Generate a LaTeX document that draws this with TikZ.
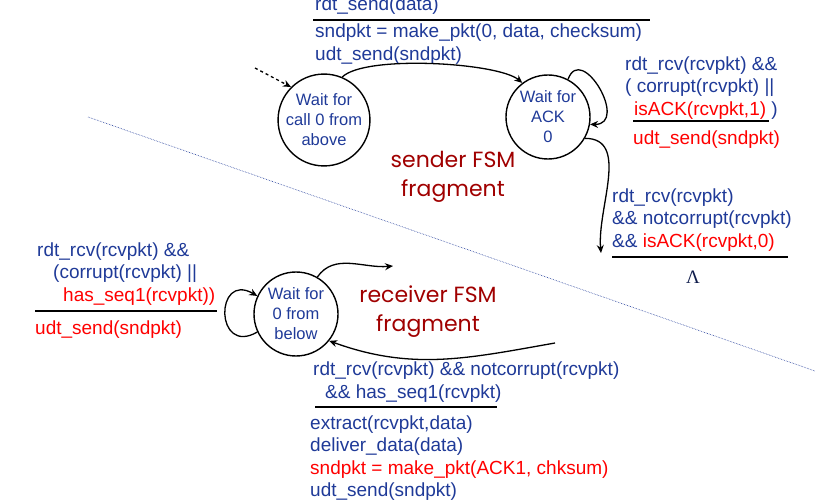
\documentclass[tikz,border=0pt]{standalone}
\usepackage{fontspec}
\setmainfont{Liberation Sans}
\newfontfamily\tagfont{Poppins}
\newfontfamily\lamfont{Liberation Serif}
\usepackage{tikz}
\usetikzlibrary{arrows.meta, positioning}
\usepackage{xcolor}
\definecolor{fsmblue}{RGB}{31, 58, 152}
\definecolor{fsmred}{RGB}{255, 0, 0}
\definecolor{fsmdark}{RGB}{160, 0, 0}

\begin{document}
\begin{tikzpicture}[x=1pt, y=1pt,
    state/.style={draw, circle, line width=1.4pt, minimum size=84pt, inner sep=0pt,
                  align=center, text=fsmblue, font=\fontsize{16.5}{20}\selectfont},
    lbl/.style={anchor=west, inner sep=0pt, align=left, text=fsmblue,
                font=\fontsize{19}{22.5}\selectfont},
    tag/.style={align=center, text=fsmdark, font=\tagfont\fontsize{22}{29}\selectfont},
    arr/.style={-{Stealth[length=8pt, width=7pt]}, line width=1.3pt},
    bar/.style={line width=2.2pt}
  ]
    \useasboundingbox (0,0) rectangle (815,-500);

    \draw[fsmblue, densely dotted, line width=0.6pt] (88,-117) -- (815,-371);

    \node[state] (call0) at (324,-120) {Wait for\\call 0 from\\above};
    \node[state] (ack0) at (548,-117) {Wait for\\ACK\\0};
    \node[state] (below0) at (296,-314) {Wait for\\0 from\\below};

    \node[tag] (sendtag) at (453,-177) {sender FSM\\fragment};
    \node[tag] (recvtag) at (428,-312) {receiver FSM\\fragment};

    \node[lbl] (sendev) at (315,-6) {rdt\_send(data)};
    \draw[bar] (313,-20) -- (650,-20);
    \node[lbl] (sendact) at (315,-44) {sndpkt = make\_pkt(0, data, checksum)\\udt\_send(sndpkt)};

    \node[lbl] (resendev) at (625,-88)
      {rdt\_rcv(rcvpkt) \&\&\\( corrupt(rcvpkt) ||\\\hspace*{9pt}\textcolor{fsmred}{isACK(rcvpkt,1)} )};
    \draw[bar] (633,-121) -- (769,-121);
    \node[lbl, text=fsmred] (resendact) at (633,-140) {udt\_send(sndpkt)};

    \node[lbl] (okev) at (612,-220)
      {rdt\_rcv(rcvpkt)\\\&\& notcorrupt(rcvpkt)\\\&\& \textcolor{fsmred}{isACK(rcvpkt,0)}};
    \draw[bar] (612,-257) -- (788,-257);
    \node[text=fsmblue!50!black, font=\lamfont\fontsize{19}{20}\selectfont] (okact) at (693,-277) {Λ};

    \node[lbl] (dupev) at (37,-274)
      {rdt\_rcv(rcvpkt) \&\&\\\hspace*{16pt}(corrupt(rcvpkt) ||\\\hspace*{26pt}\textcolor{fsmred}{has\_seq1(rcvpkt))}};
    \draw[bar] (35,-311) -- (217,-311);
    \node[lbl, text=fsmred] (dupact) at (35,-330) {udt\_send(sndpkt)};

    \node[lbl] (recvev) at (313,-382)
      {rdt\_rcv(rcvpkt) \&\& notcorrupt(rcvpkt)\\\hspace*{12pt}\&\& has\_seq1(rcvpkt)};
    \draw[bar] (315,-407) -- (497,-407);
    \node[lbl] (recvact) at (310,-458)
      {extract(rcvpkt,data)\\deliver\_data(data)\\\textcolor{fsmred}{sndpkt = make\_pkt(ACK1, chksum)}\\udt\_send(sndpkt)};

    \coordinate (init) at (255,-68);
    \coordinate (ack0out) at (601,-253);
    \coordinate (below0out) at (393,-266);
    \coordinate (below0in) at (555,-343);

    \draw[arr, dashed] (init) -- (call0.135);
    \draw[arr] (call0.67) to[out=45, in=140, looseness=0.45] (ack0.127);
    \draw[arr] (ack0.62) to[out=70, in=0, looseness=2] (ack0.-10);
    \draw[arr] (ack0.-30) to[out=0, in=95] (ack0out);
    \draw[arr] (below0.205) to[out=210, in=150, looseness=3.5] (below0.155);
    \draw[arr] (below0.60) to[out=55, in=185] (below0out);
    \draw[arr] (below0in) to[out=190, in=-20] (below0.-39);
  \end{tikzpicture}
\end{document}
